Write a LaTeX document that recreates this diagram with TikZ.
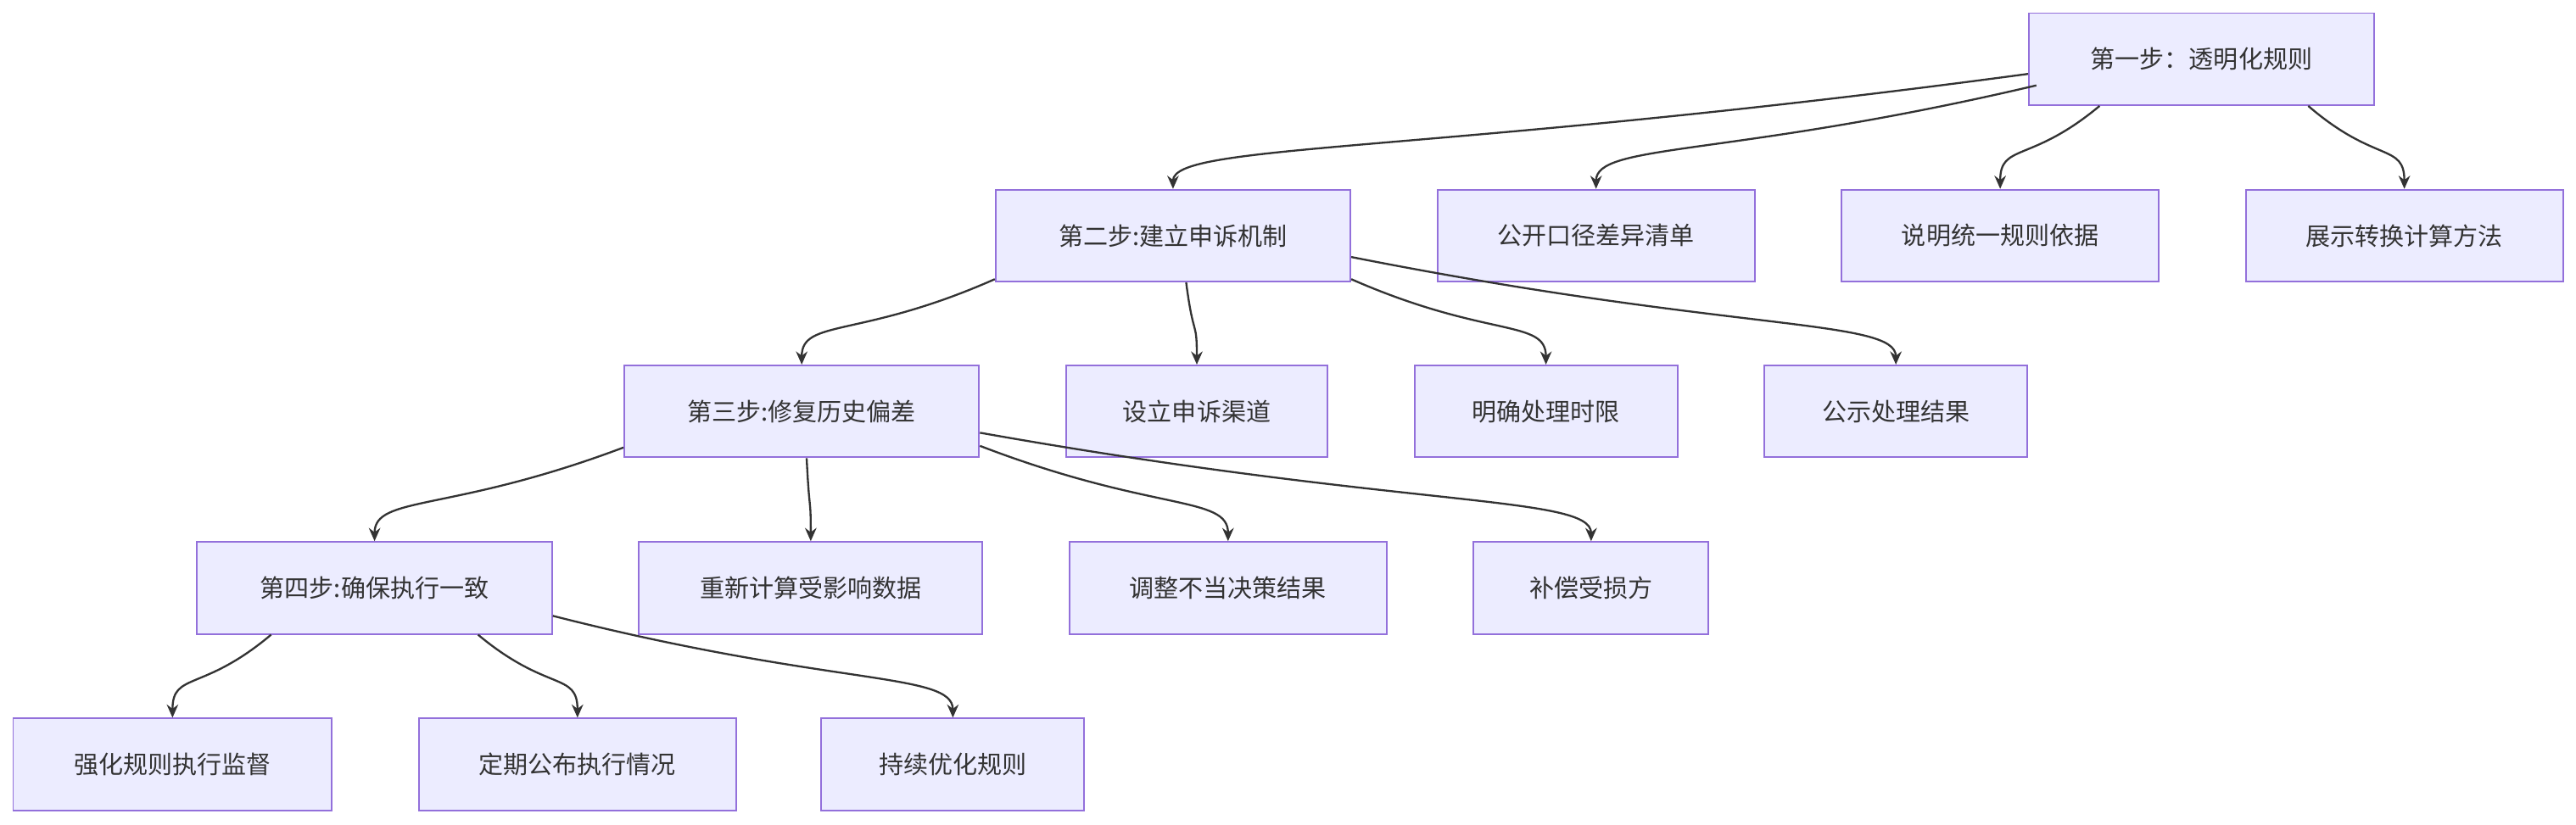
\documentclass[tikz,border=0pt]{standalone}
\usepackage{fontspec}
\setmainfont{Noto Sans CJK SC}
\usetikzlibrary{calc,arrows.meta}
\definecolor{bfill}{HTML}{ECECFF}
\definecolor{bdraw}{HTML}{9370DB}
\definecolor{ln}{HTML}{333333}
\tikzset{box/.style={draw=bdraw,fill=bfill,line width=1pt,minimum height=56pt,inner sep=0pt,font=\fontsize{15}{18}\selectfont,text=ln},
arr/.style={draw=ln,line width=1.2pt,-{Stealth[length=8pt,width=7pt]}}}
\newcommand\edge[2]{\draw[arr] (#1) .. controls ($(#1)!0.7!(#2)$) and ($(#2)+(0,-28)$) .. (#2);}
\begin{document}
\begin{tikzpicture}[x=1pt,y=-1pt]
\useasboundingbox (0,0) rectangle (1568,502);
\node[box,minimum width=210pt] (s1) at (1340,36) {第一步：透明化规则};
\node[box,minimum width=216pt] (s2) at (714,143.5) {第二步:建立申诉机制};
\node[box,minimum width=193pt] (a1) at (971.5,143.5) {公开口径差异清单};
\node[box,minimum width=193pt] (a2) at (1217.5,143.5) {说明统一规则依据};
\node[box,minimum width=193pt] (a3) at (1463.5,143.5) {展示转换计算方法};
\node[box,minimum width=216pt] (s3) at (488,250.5) {第三步:修复历史偏差};
\node[box,minimum width=159pt] (b1) at (728.5,250.5) {设立申诉渠道};
\node[box,minimum width=160pt] (b2) at (941,250.5) {明确处理时限};
\node[box,minimum width=160pt] (b3) at (1154,250.5) {公示处理结果};
\node[box,minimum width=216pt] (s4) at (228,358) {第四步:确保执行一致};
\node[box,minimum width=209pt] (c1) at (493.5,358) {重新计算受影响数据};
\node[box,minimum width=193pt] (c2) at (747.5,358) {调整不当决策结果};
\node[box,minimum width=143pt] (c3) at (968.5,358) {补偿受损方};
\node[box,minimum width=194pt] (d1) at (105,465.5) {强化规则执行监督};
\node[box,minimum width=193pt] (d2) at (351.5,465.5) {定期公布执行情况};
\node[box,minimum width=160pt] (d3) at (580,465.5) {持续优化规则};
\coordinate (p1) at ($(s1.west)+(0,9)$);
\coordinate (p2) at ($(s1.west)+(5,16)$);
\coordinate (p3) at ($(s1.south)+(-62,0)$);
\coordinate (p4) at ($(s1.south)+(65,0)$);
\coordinate (q1) at ($(s2.south west)+(0,-2)$);
\coordinate (q2) at ($(s2.south)+(8,0)$);
\coordinate (q3) at ($(s2.south east)+(0,-2)$);
\coordinate (q4) at ($(s2.east)+(0,13)$);
\coordinate (r1) at ($(s3.west)+(0,22)$);
\coordinate (r2) at ($(s3.south)+(3,0)$);
\coordinate (r3) at ($(s3.east)+(0,21)$);
\coordinate (r4) at ($(s3.east)+(0,13)$);
\coordinate (t1) at ($(s4.south)+(-63,0)$);
\coordinate (t2) at ($(s4.south)+(63,0)$);
\coordinate (t3) at ($(s4.east)+(0,17)$);
\edge{p1}{s2.north}
\edge{p2}{a1.north}
\edge{p3}{a2.north}
\edge{p4}{a3.north}
\edge{q1}{s3.north}
\edge{q2}{b1.north}
\edge{q3}{b2.north}
\edge{q4}{b3.north}
\edge{r1}{s4.north}
\edge{r2}{c1.north}
\edge{r3}{c2.north}
\edge{r4}{c3.north}
\edge{t1}{d1.north}
\edge{t2}{d2.north}
\edge{t3}{d3.north}
\end{tikzpicture}
\end{document}
